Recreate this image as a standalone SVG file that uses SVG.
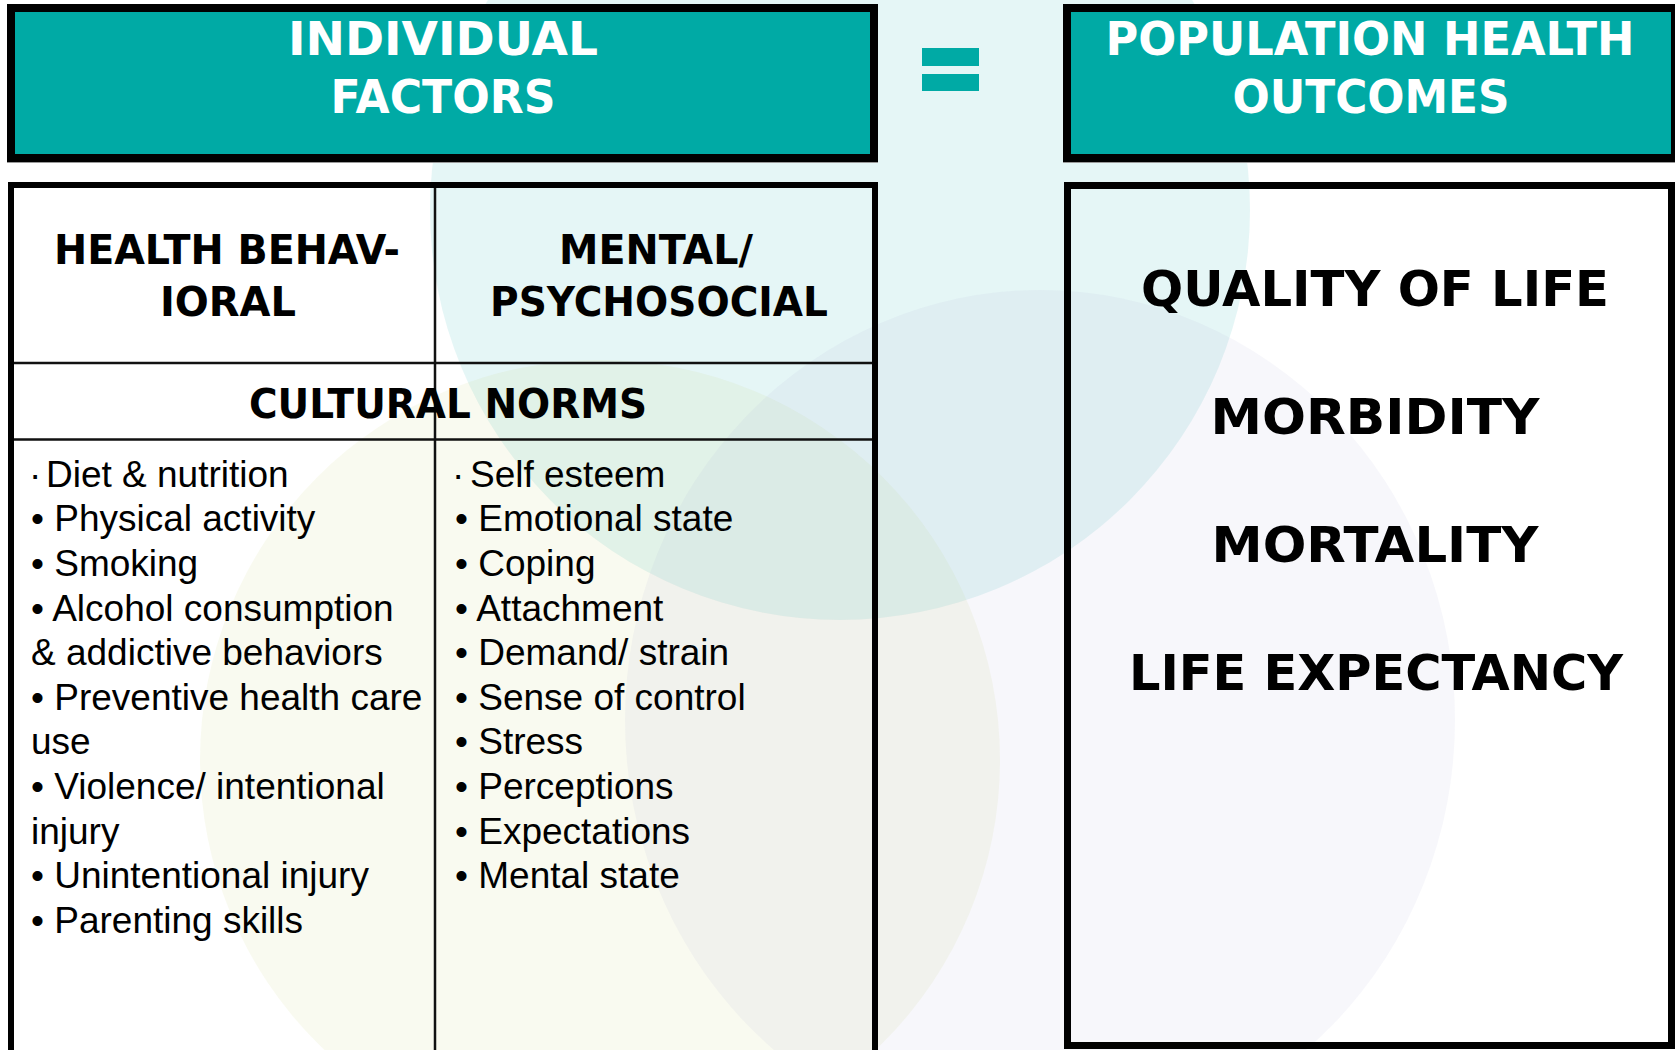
<svg xmlns="http://www.w3.org/2000/svg" width="1675" height="1050" viewBox="0 0 1675 1050">
  <style>
    .hdr { fill: #00AAA5; stroke: #000; stroke-width: 8; }
    .hdrtxt { font-family: "DejaVu Sans", Verdana, sans-serif; font-weight: bold; font-size: 46px; fill: #fff; text-anchor: middle; }
    .frame { fill: none; stroke: #000; }
    .rule { stroke: #111; stroke-width: 2.5; fill: none; }
    .sub { font-family: "DejaVu Sans", Verdana, sans-serif; font-weight: bold; font-size: 40px; fill: #000; text-anchor: middle; }
    .out { font-family: "DejaVu Sans", Verdana, sans-serif; font-weight: bold; font-size: 50px; fill: #000; text-anchor: middle; }
    .item { font-family: "Liberation Sans", Arial, sans-serif; font-size: 37px; fill: #000; }
    .eq { fill: #00AAA5; }
  </style>
  <rect width="1675" height="1050" fill="#fff"/>
  <g id="background">
    <circle cx="840" cy="210" r="410" fill="rgb(0,170,165)" fill-opacity="0.1"/>
    <circle cx="600" cy="760" r="400" fill="rgb(200,210,120)" fill-opacity="0.11"/>
    <ellipse cx="1040" cy="720" rx="415" ry="430" fill="rgb(170,170,210)" fill-opacity="0.09"/>
  </g>

  <g id="individual-factors">
    <line x1="7" y1="162.5" x2="878" y2="162.5" stroke="#999" stroke-width="1"/>
    <rect class="hdr" x="11" y="8" width="863" height="150"/>
    <text class="hdrtxt" x="443" y="55" textLength="310" lengthAdjust="spacingAndGlyphs">INDIVIDUAL</text>
    <text class="hdrtxt" x="443" y="113" textLength="225" lengthAdjust="spacingAndGlyphs">FACTORS</text>
  </g>

  <g id="equals">
    <rect class="eq" x="922" y="48" width="57" height="18"/>
    <rect class="eq" x="922" y="74" width="57" height="17"/>
  </g>

  <g id="population-health-outcomes">
    <line x1="1063" y1="162.5" x2="1675" y2="162.5" stroke="#999" stroke-width="1"/>
    <rect class="hdr" x="1067" y="8" width="608" height="150"/>
    <text class="hdrtxt" x="1370" y="55" textLength="529" lengthAdjust="spacingAndGlyphs">POPULATION HEALTH</text>
    <text class="hdrtxt" x="1371" y="113" textLength="277" lengthAdjust="spacingAndGlyphs">OUTCOMES</text>
  </g>

  <g id="factors-table">
    <rect class="frame" x="11" y="185" width="864" height="900" stroke-width="6"/>
    <line class="rule" x1="435" y1="188" x2="435" y2="1050"/>
    <line class="rule" x1="14" y1="363" x2="872" y2="363"/>
    <line class="rule" x1="14" y1="439.5" x2="872" y2="439.5"/>
    <g id="health-behavioral">
      <text class="sub" x="227" y="264" textLength="346" lengthAdjust="spacingAndGlyphs">HEALTH BEHAV-</text>
      <text class="sub" x="228" y="316">IORAL</text>
    </g>
    <g id="mental-psychosocial">
      <text class="sub" x="656" y="264" textLength="194" lengthAdjust="spacingAndGlyphs">MENTAL/</text>
      <text class="sub" x="659" y="316" textLength="338" lengthAdjust="spacingAndGlyphs">PSYCHOSOCIAL</text>
    </g>
    <g id="cultural-norms">
      <text class="sub" x="448" y="418" textLength="398" lengthAdjust="spacingAndGlyphs">CULTURAL NORMS</text>
    </g>
    <g id="behavioral-list" class="item">
      <text x="29" y="486.5">·<tspan x="46">Diet &amp; nutrition</tspan></text>
      <text x="31" y="531.2">• Physical activity</text>
      <text x="31" y="575.8">• Smoking</text>
      <text x="31" y="620.5">• Alcohol consumption</text>
      <text x="31" y="665.1">&amp; addictive behaviors</text>
      <text x="31" y="709.8">• Preventive health care</text>
      <text x="31" y="754.4">use</text>
      <text x="31" y="799.1">• Violence/ intentional</text>
      <text x="31" y="843.7">injury</text>
      <text x="31" y="888.4">• Unintentional injury</text>
      <text x="31" y="933">• Parenting skills</text>
    </g>
    <g id="psychosocial-list" class="item">
      <text x="452" y="486.5">·<tspan x="470">Self esteem</tspan></text>
      <text x="455" y="531.2">• Emotional state</text>
      <text x="455" y="575.8">• Coping</text>
      <text x="455" y="620.5">• Attachment</text>
      <text x="455" y="665.1">• Demand/ strain</text>
      <text x="455" y="709.8">• Sense of control</text>
      <text x="455" y="754.4">• Stress</text>
      <text x="455" y="799.1">• Perceptions</text>
      <text x="455" y="843.7">• Expectations</text>
      <text x="455" y="888.4">• Mental state</text>
    </g>
  </g>

  <g id="outcomes-box">
    <rect class="frame" x="1067.5" y="185.5" width="604" height="860" stroke-width="7"/>
    <text class="out" x="1375" y="306" textLength="468" lengthAdjust="spacingAndGlyphs">QUALITY OF LIFE</text>
    <text class="out" x="1375" y="434" textLength="329" lengthAdjust="spacingAndGlyphs">MORBIDITY</text>
    <text class="out" x="1375" y="562" textLength="327" lengthAdjust="spacingAndGlyphs">MORTALITY</text>
    <text class="out" x="1376" y="690" textLength="494" lengthAdjust="spacingAndGlyphs">LIFE EXPECTANCY</text>
  </g>

  <g id="connectors"/>
</svg>
